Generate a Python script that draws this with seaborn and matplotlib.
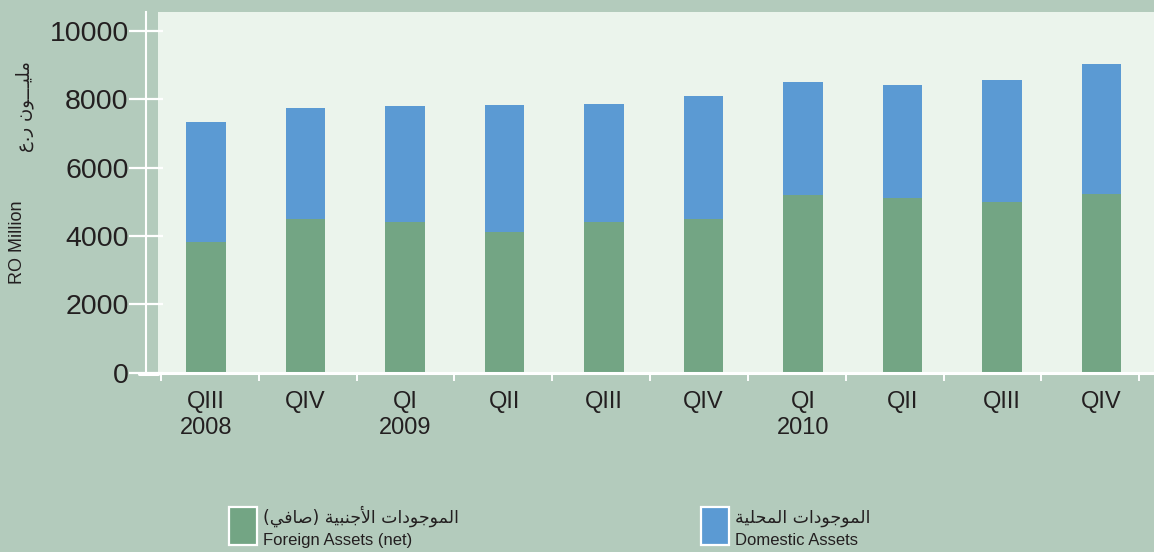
import numpy as np
import matplotlib
matplotlib.use("Agg")
import matplotlib.pyplot as plt
from matplotlib.patches import Rectangle
from matplotlib.lines import Line2D
import seaborn as sns

# quarterly data, RO million
periods = ["2008Q3", "2008Q4", "2009Q1", "2009Q2", "2009Q3",
           "2009Q4", "2010Q1", "2010Q2", "2010Q3", "2010Q4"]
tick_labels = ["QIII\n2008", "QIV", "QI\n2009", "QII", "QIII",
               "QIV", "QI\n2010", "QII", "QIII", "QIV"]
foreign = [3820, 4490, 4410, 4120, 4410, 4490, 5200, 5120, 4990, 5230]
domestic = [3510, 3250, 3390, 3700, 3450, 3600, 3300, 3290, 3570, 3800]
total = [f + d for f, d in zip(foreign, domestic)]

y_ticks = [0, 2000, 4000, 6000, 8000, 10000]
ylabel_en = "RO Million"
ylabel_ar = "مليـــون ر.ع"
legend_ar = ["الموجودات الأجنبية (صافي)", "الموجودات المحلية"]
legend_en = ["Foreign Assets (net)", "Domestic Assets"]

BG = "#b3cbbc"
PANEL = "#ebf4ec"
GREEN = "#73a584"
BLUE = "#5b9ad3"
INK = "#231f20"

# minimal arabic shaping (presentation forms) since matplotlib has none
FORMS = {
    "ا": ("\uFE8D", "\uFE8E"), "أ": ("\uFE83", "\uFE84"),
    "ب": ("\uFE8F", "\uFE90", "\uFE91", "\uFE92"),
    "ة": ("\uFE93", "\uFE94"),
    "ت": ("\uFE95", "\uFE96", "\uFE97", "\uFE98"),
    "ج": ("\uFE9D", "\uFE9E", "\uFE9F", "\uFEA0"),
    "ح": ("\uFEA1", "\uFEA2", "\uFEA3", "\uFEA4"),
    "د": ("\uFEA9", "\uFEAA"), "ر": ("\uFEAD", "\uFEAE"),
    "ص": ("\uFEB9", "\uFEBA", "\uFEBB", "\uFEBC"),
    "ع": ("\uFEC9", "\uFECA", "\uFECB", "\uFECC"),
    "ف": ("\uFED1", "\uFED2", "\uFED3", "\uFED4"),
    "ل": ("\uFEDD", "\uFEDE", "\uFEDF", "\uFEE0"),
    "م": ("\uFEE1", "\uFEE2", "\uFEE3", "\uFEE4"),
    "ن": ("\uFEE5", "\uFEE6", "\uFEE7", "\uFEE8"),
    "و": ("\uFEED", "\uFEEE"),
    "ي": ("\uFEF1", "\uFEF2", "\uFEF3", "\uFEF4"),
    "ـ": ("ـ", "ـ", "ـ", "ـ"),
}
LAM_ALEF = {"ا": ("\uFEFB", "\uFEFC"), "أ": ("\uFEF7", "\uFEF8")}


def shape_ar(text):
    out = []
    i = 0
    while i < len(text):
        c = text[i]
        prev = text[i - 1] if i > 0 else None
        nxt = text[i + 1] if i + 1 < len(text) else None
        con_prev = prev in FORMS and len(FORMS[prev]) == 4
        if c == "ل" and nxt in LAM_ALEF:
            out.append(LAM_ALEF[nxt][1 if con_prev else 0])
            i += 2
            continue
        if c not in FORMS:
            out.append(c)
            i += 1
            continue
        f = FORMS[c]
        con_next = len(f) == 4 and nxt in FORMS
        if con_prev and con_next:
            out.append(f[3])
        elif con_prev:
            out.append(f[1])
        elif con_next:
            out.append(f[2])
        else:
            out.append(f[0])
        i += 1
    vis = "".join(reversed(out))
    return vis.translate(str.maketrans("()", ")("))


sns.set_style("ticks")
plt.rcParams["font.family"] = ["Liberation Sans", "DejaVu Sans"]
AR = ["DejaVu Sans"]

W, H = 1154, 552
fig = plt.figure(figsize=(W / 100, H / 100), dpi=100, facecolor=BG)
ax = fig.add_axes([158 / W, (H - 372.7) / H, (W - 158) / W, (372.7 - 12) / H])
ax.set_facecolor(PANEL)

sns.barplot(x=periods, y=total, order=periods, color=BLUE, saturation=1,
            width=0.4, linewidth=0, errorbar=None, ax=ax)
sns.barplot(x=periods, y=foreign, order=periods, color=GREEN, saturation=1,
            width=0.4, linewidth=0, errorbar=None, ax=ax)

ax.set_xlim(-0.482, 9.527)
ax.set_ylim(0, 10547)
ax.set_xlabel("")
ax.set_ylabel("")

for s in ["top", "right"]:
    ax.spines[s].set_visible(False)
ax.spines["left"].set_position(("outward", 12 * 0.72))
ax.spines["left"].set_color("white")
ax.spines["left"].set_linewidth(1.5)
ax.spines["bottom"].set_color("white")
ax.spines["bottom"].set_linewidth(2.2)

ax.set_yticks(y_ticks)
ax.set_yticklabels([str(v) for v in y_ticks])
ax.tick_params(axis="y", direction="inout", length=24, width=1.6,
               color="white", labelsize=20.5, labelcolor=INK, pad=0.5)

ax.set_xticks(range(len(periods)))
ax.set_xticklabels(tick_labels, linespacing=1.2)
ax.tick_params(axis="x", which="major", length=0, labelsize=17,
               labelcolor=INK, pad=13.5)
ax.set_xticks(np.arange(11) * 0.983 - 0.452, minor=True)
ax.tick_params(axis="x", which="minor", direction="out", length=5.8,
               width=1.4, color="white")

# bottom axis line extends a little to the left of the panel
fig.add_artist(Line2D([139 / W, 158 / W], [(H - 373.5) / H] * 2,
                      color="white", lw=2.2, transform=fig.transFigure))

# axis titles
fig.text(17 / W, (H - 242) / H, ylabel_en, rotation=90, ha="center",
         va="center", fontsize=13, color=INK)
fig.text(25 / W, (H - 107) / H, shape_ar(ylabel_ar), rotation=90,
         ha="center", va="center", fontsize=13, color=INK, fontfamily=AR)

# legend
for x0, color, ar, en in [(229, GREEN, legend_ar[0], legend_en[0]),
                          (701, BLUE, legend_ar[1], legend_en[1])]:
    fig.add_artist(Rectangle((x0 / W, (H - 545) / H), 28 / W, 38 / H,
                             facecolor=color, edgecolor="white", lw=1.6,
                             transform=fig.transFigure))
    fig.text((x0 + 34) / W, (H - 523) / H, shape_ar(ar), ha="left",
             va="baseline", fontsize=12.5, color=INK, fontfamily=AR)
    fig.text((x0 + 34) / W, (H - 545) / H, en, ha="left", va="baseline",
             fontsize=12, color=INK)

fig.savefig("out.png", dpi=100, facecolor=BG)
